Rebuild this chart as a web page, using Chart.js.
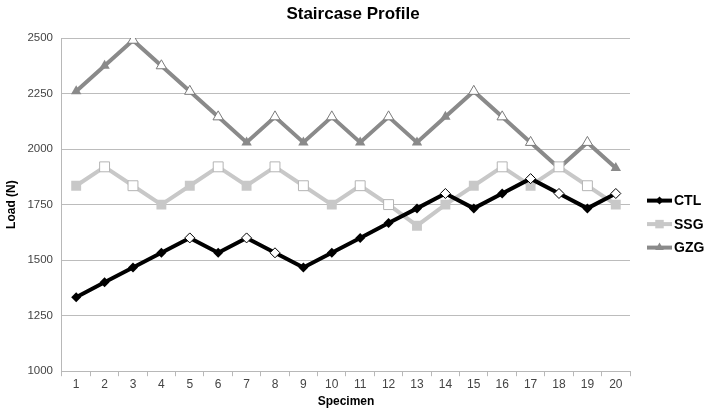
<!DOCTYPE html>
<html>
<head>
<meta charset="utf-8">
<script src="https://cdn.jsdelivr.net/npm/chart.js@4"></script>
<style>
  html, body { margin: 0; padding: 0; background: #fff; }
  #wrap { width: 714px; height: 418px; }
</style>
</head>
<body>
<div id="wrap"><canvas id="staircaseChart"></canvas></div>
<script>
// specimen numbers
const specimens = ['1','2','3','4','5','6','7','8','9','10','11','12','13','14','15','16','17','18','19','20'];

// load levels (N)
const ctlLoad = [1333, 1400, 1467, 1533, 1600, 1533, 1600, 1533, 1467, 1533, 1600, 1667, 1733, 1800, 1733, 1800, 1867, 1800, 1733, 1800];
const ssgLoad = [1835, 1920, 1835, 1750, 1835, 1920, 1835, 1920, 1835, 1750, 1835, 1750, 1655, 1750, 1835, 1920, 1835, 1920, 1835, 1750];
const gzgLoad = [2260, 2375, 2490, 2375, 2260, 2145, 2030, 2145, 2030, 2145, 2030, 2145, 2030, 2145, 2260, 2145, 2030, 1915, 2030, 1915];

// 1 = failure (hollow marker), 0 = run-out (filled marker)
const ctlFailed = [0,0,0,0,1,0,1,1,0,0,0,0,0,1,0,0,1,1,0,1];
const ssgFailed = [0,1,1,0,0,1,0,1,1,0,1,1,0,0,0,1,0,1,1,0];
const gzgFailed = [0,0,1,1,1,1,0,1,0,1,0,1,0,0,1,1,1,0,1,0];

const FONT = 'Liberation Sans, Arial, sans-serif';

// marker arrays: hollow markers are white with a thin outline
const markers = (failed, color, outline) => ({
  pointBackgroundColor: failed.map(f => f ? '#ffffff' : color),
  pointBorderColor: failed.map(f => f ? outline : color),
  pointBorderWidth: failed.map(f => f ? 1 : 0)
});

const series = [
  { label: 'CTL', data: ctlLoad, color: '#000000', style: 'rectRot', radius: 5, ...markers(ctlFailed, '#000000', '#000000') },
  { label: 'SSG', data: ssgLoad, color: '#c8c8c8', style: 'rect', radius: 7, ...markers(ssgFailed, '#c8c8c8', '#b4b4b4') },
  { label: 'GZG', data: gzgLoad, color: '#8a8a8a', style: 'triangle', radius: 6, ...markers(gzgFailed, '#8a8a8a', '#7a7a7a') }
];

// legend + title drawn by hand so they sit where the original has them
const extrasPlugin = {
  id: 'extras',
  afterDraw(chart) {
    const ctx = chart.ctx;
    const area = chart.chartArea;
    ctx.save();
    ctx.fillStyle = '#000';
    ctx.font = 'bold 17px ' + FONT;
    ctx.textAlign = 'center';
    ctx.textBaseline = 'middle';
    ctx.fillText('Staircase Profile', chart.width / 2 - 4, 14);

    const x0 = area.right + 17;
    let y = (area.top + area.bottom) / 2 - 4;
    chart.data.datasets.forEach(ds => {
      ctx.strokeStyle = ds.borderColor;
      ctx.lineWidth = 4;
      ctx.beginPath();
      ctx.moveTo(x0, y);
      ctx.lineTo(x0 + 25, y);
      ctx.stroke();
      ctx.fillStyle = ds.borderColor;
      Chart.helpers.drawPoint(ctx, { pointStyle: ds.pointStyle, radius: ds.pointRadius - 1, rotation: 0, borderWidth: 0 }, x0 + 12.5, y);
      ctx.fillStyle = '#000';
      ctx.font = 'bold 14px ' + FONT;
      ctx.textAlign = 'left';
      ctx.fillText(ds.label, x0 + 27, y + 1);
      y += 23.5;
    });
    ctx.restore();
  }
};

new Chart(document.getElementById('staircaseChart'), {
  type: 'line',
  data: {
    labels: specimens,
    datasets: series.map(s => ({
      label: s.label,
      data: s.data,
      borderColor: s.color,
      backgroundColor: s.color,
      borderWidth: 4,
      pointStyle: s.style,
      pointRadius: s.radius,
      pointHoverRadius: s.radius,
      pointBackgroundColor: s.pointBackgroundColor,
      pointBorderColor: s.pointBorderColor,
      pointBorderWidth: s.pointBorderWidth,
      tension: 0,
      fill: false
    }))
  },
  options: {
    responsive: true,
    maintainAspectRatio: false,
    animation: false,
    layout: { padding: { top: 38, right: 84, bottom: 9, left: 4 } },
    plugins: {
      legend: { display: false },
      title: { display: false },
      tooltip: { enabled: false }
    },
    scales: {
      x: {
        offset: true,
        grid: { display: true, drawOnChartArea: false, drawTicks: true, tickLength: 5, offset: true, color: '#b8b8b8' },
        border: { color: '#b8b8b8' },
        ticks: { color: '#444', font: { family: FONT, size: 12 }, padding: 1, maxRotation: 0, autoSkip: false },
        title: { display: true, text: 'Specimen', color: '#000', font: { family: FONT, size: 12, weight: 'bold' }, padding: { top: 2, bottom: 0 } }
      },
      y: {
        min: 1000,
        max: 2500,
        ticks: { stepSize: 250, color: '#444', font: { family: FONT, size: 11.5 }, padding: 9, callback: v => String(v) },
        grid: { color: '#bcbcbc', drawTicks: false },
        border: { color: '#b8b8b8' },
        title: { display: true, text: 'Load (N)', color: '#000', font: { family: FONT, size: 12, weight: 'bold' }, padding: { top: 0, bottom: 0 } }
      }
    }
  },
  plugins: [extrasPlugin]
});
</script>
</body>
</html>
